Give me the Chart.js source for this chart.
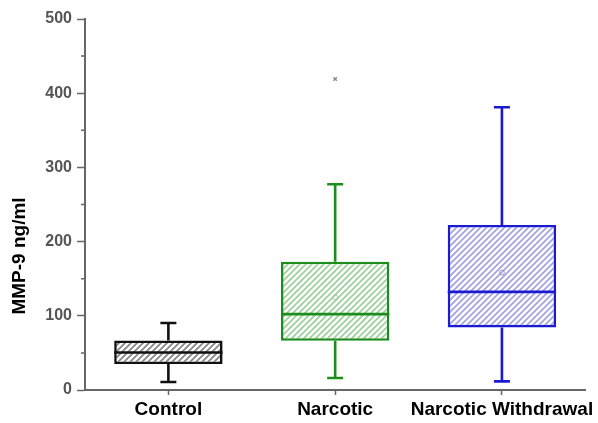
<!DOCTYPE html>
<html>
<head>
<meta charset="utf-8">
<script src="https://cdn.jsdelivr.net/npm/chart.js@4"></script>
<style>
  html, body { margin: 0; padding: 0; background: #fff; }
  #wrap { position: relative; width: 598px; height: 423px; }
</style>
</head>
<body>
<div id="wrap"><canvas id="chart" width="598" height="423"></canvas></div>
<script>
// Groups and five-number summaries of MMP-9 (ng/ml)
const categories = ['Control', 'Narcotic', 'Narcotic Withdrawal'];
const whiskerLow = [10.8, 16.2, 11.6];
const q1Values = [35.0, 66.4, 84.3];
const medianValues = [50.6, 102.3, 132.3];
const q3Values = [66.8, 173.0, 222.5];
const whiskerHigh = [90.2, 277.3, 381.0];
const meanValues = [null, 124.6, 158.3];
const outlierValues = [null, 419, null];
const yTicks = [0, 100, 200, 300, 400, 500];
const yMinorTicks = [50, 150, 250, 350, 450];
const yTitle = 'MMP-9 ng/ml';

const boxColors = ['#111111', '#1c8c1c', '#1a1ad2'];
const hatchColors = ['#858585', '#9cd09c', '#a2a2e0'];

const FONT = "'Liberation Sans', Arial, sans-serif";
const AXIS = '#666666';

function hatch(color) {
  const s = 6;
  const c = document.createElement('canvas');
  c.width = s; c.height = s;
  const g = c.getContext('2d');
  g.fillStyle = '#ffffff';
  g.fillRect(0, 0, s, s);
  g.strokeStyle = color;
  g.lineWidth = 1.7;
  g.beginPath();
  g.moveTo(-s, s * 2); g.lineTo(s * 2, -s);
  g.moveTo(-s, s); g.lineTo(s, -s);
  g.moveTo(0, s * 2); g.lineTo(s * 2, 0);
  g.stroke();
  return g.createPattern(c, 'repeat');
}

// whiskers, caps, medians, minor ticks and the rotated y title
const boxExtras = {
  id: 'boxExtras',
  afterDatasetsDraw(chart) {
    const ctx = chart.ctx;
    const x = chart.scales.x, y = chart.scales.y;
    const bars = chart.getDatasetMeta(0).data;
    ctx.save();
    ctx.lineCap = 'butt';
    categories.forEach((_, i) => {
      const cx = x.getPixelForValue(i);
      const half = bars[i].width / 2;
      ctx.strokeStyle = boxColors[i];
      ctx.lineWidth = 2.6;
      ctx.beginPath();
      ctx.moveTo(cx, y.getPixelForValue(q3Values[i]));
      ctx.lineTo(cx, y.getPixelForValue(whiskerHigh[i]));
      ctx.moveTo(cx, y.getPixelForValue(q1Values[i]));
      ctx.lineTo(cx, y.getPixelForValue(whiskerLow[i]));
      const cap = 8;
      [whiskerHigh[i], whiskerLow[i]].forEach(v => {
        const py = y.getPixelForValue(v);
        ctx.moveTo(cx - cap, py); ctx.lineTo(cx + cap, py);
      });
      const pm = y.getPixelForValue(medianValues[i]);
      ctx.moveTo(cx - half, pm); ctx.lineTo(cx + half, pm);
      ctx.stroke();
    });
    // minor ticks on the value axis
    ctx.strokeStyle = AXIS;
    ctx.lineWidth = 1.5;
    ctx.beginPath();
    yMinorTicks.forEach(v => {
      const py = y.getPixelForValue(v);
      ctx.moveTo(y.right - 4, py); ctx.lineTo(y.right, py);
    });
    ctx.stroke();
    // axis title
    ctx.fillStyle = '#000';
    ctx.font = 'bold 19px ' + FONT;
    ctx.textAlign = 'center';
    ctx.textBaseline = 'middle';
    ctx.translate(20, 256);
    ctx.rotate(-Math.PI / 2);
    ctx.fillText(yTitle, 0, 0);
    ctx.restore();
  }
};

new Chart(document.getElementById('chart'), {
  type: 'bar',
  data: {
    labels: categories,
    datasets: [
      {
        type: 'bar',
        order: 2,
        data: categories.map((_, i) => [q1Values[i], q3Values[i]]),
        backgroundColor: hatchColors.map(hatch),
        borderColor: boxColors,
        borderWidth: 2.6,
        borderSkipped: false,
        categoryPercentage: 1,
        barPercentage: 0.65
      },
      {
        type: 'line',
        order: 1,
        data: meanValues,
        showLine: false,
        pointStyle: 'circle',
        pointRadius: 2.5,
        pointBorderWidth: 1,
        pointBorderColor: ['#999', '#9bc99b', '#9a9ad0'],
        pointBackgroundColor: 'rgba(255,255,255,0)'
      },
      {
        type: 'line',
        order: 1,
        data: outlierValues,
        showLine: false,
        pointStyle: 'crossRot',
        pointRadius: 2.5,
        pointBorderWidth: 1.4,
        pointBorderColor: '#8a8a8a'
      }
    ]
  },
  options: {
    responsive: false,
    animation: false,
    devicePixelRatio: 1,
    layout: { padding: { top: 19, right: 11, left: 0, bottom: 0 } },
    plugins: { legend: { display: false }, tooltip: { enabled: false } },
    scales: {
      x: {
        type: 'category',
        offset: true,
        grid: { display: true, drawOnChartArea: false, offset: false, tickLength: 5, tickColor: AXIS, tickWidth: 1.5 },
        border: { display: true, color: AXIS, width: 2 },
        ticks: {
          color: '#000',
          font: { family: FONT, size: 19, weight: 'bold' },
          padding: 3,
          maxRotation: 0,
          autoSkip: false
        },
        afterFit(s) { s.height = 33; }
      },
      y: {
        min: 0,
        max: 500,
        afterBuildTicks(s) { s.ticks = yTicks.map(v => ({ value: v })); },
        grid: { display: true, drawOnChartArea: false, tickLength: 8, tickColor: AXIS, tickWidth: 1.5 },
        border: { display: true, color: AXIS, width: 2 },
        ticks: {
          color: '#555',
          font: { family: FONT, size: 16, weight: 'bold' },
          padding: 5
        },
        afterFit(s) { s.width = 85; }
      }
    }
  },
  plugins: [boxExtras]
});
</script>
</body>
</html>
